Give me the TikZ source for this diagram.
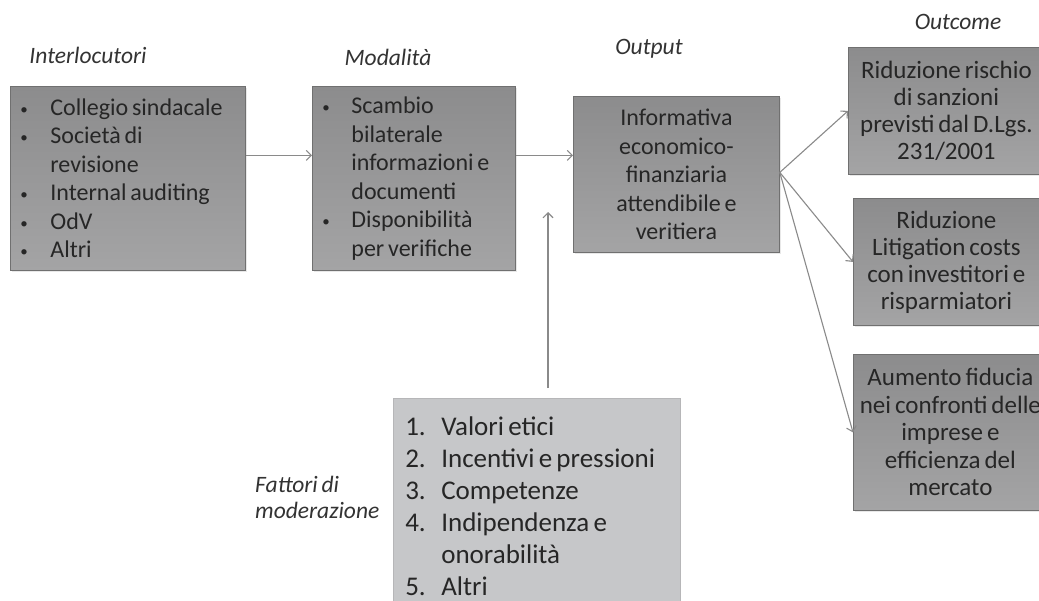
\documentclass[tikz,border=0pt]{standalone}
\usepackage{fontspec}
\setmainfont{Carlito}[WordSpace=0.7]
\usetikzlibrary{arrows.meta,calc,shadows}
\definecolor{boxtop}{HTML}{8C8C8D}
\definecolor{boxbot}{HTML}{A4A4A5}
\definecolor{boxline}{HTML}{707070}
\definecolor{boxtext}{HTML}{262626}
\definecolor{lbltext}{HTML}{333333}
\definecolor{modfill}{HTML}{C6C7C9}
\definecolor{modline}{HTML}{B6B6B8}
\definecolor{arrowgray}{HTML}{8A8A8A}
% list markers with a fixed hanging indent
\newcommand\bul[1]{\makebox[#1][l]{\fontsize{15}{15}\selectfont\raisebox{1pt}{\textbullet}}}
\newcommand\num[2]{\makebox[#1][l]{#2}}
\newcommand\gap[1]{\hspace*{#1}}
\tikzset{
  darkbox/.style={draw=boxline, line width=0.8pt, top color=boxtop, bottom color=boxbot,
    text=boxtext, inner sep=0pt, anchor=north west,
    drop shadow={opacity=0.18, shadow xshift=2pt, shadow yshift=-2pt},
    font=\fontsize{24}{28.5}\selectfont},
  listbox/.style={darkbox, align=flush left, inner xsep=10pt},
  centerbox/.style={darkbox, align=center},
  modbox/.style={draw=modline, line width=0.6pt, fill=modfill, text=boxtext,
    inner sep=0pt, inner xsep=12pt, anchor=north west, align=flush left,
    font=\fontsize{27}{32}\selectfont},
  heading/.style={text=lbltext, font=\itshape\fontsize{23.5}{26}\selectfont, inner sep=0pt},
  flow/.style={draw=arrowgray, line width=1.1pt, -{Straight Barb[length=5pt,width=10pt]}}
}
\begin{document}
\begin{tikzpicture}[x=1pt,y=-1pt]
\useasboundingbox (0,0) rectangle (1039,600);
\clip (0,0) rectangle (1039,600);
\fill[white] (0,0) rectangle (1039,600);

% column headings
\node[heading] (hinter) at (88,55) {Interlocutori};
\node[heading] (hmoda) at (388,57) {Modalità};
\node[heading] (hout) at (649,49) {Output};
\node[heading] (houtc) at (958,22) {Outcome};
\node[heading, anchor=west, align=left] (hfat) at (255,497) {Fattori di\\moderazione};

% process boxes
\node[listbox, text width=215pt, minimum width=235pt, minimum height=184pt] (inter) at (10,86)
  {\bul{30pt}Collegio sindacale\\
   \bul{30pt}Società di\\
   \gap{30pt}revisione\\
   \bul{30pt}Internal auditing\\
   \bul{30pt}OdV\\
   \bul{30pt}Altri};

\node[listbox, text width=183pt, minimum width=203pt, minimum height=184pt] (moda) at (312,86)
  {\bul{29pt}Scambio\\
   \gap{29pt}bilaterale\\
   \gap{29pt}informazioni e\\
   \gap{29pt}documenti\\
   \bul{29pt}Disponibilità\\
   \gap{29pt}per verifiche};

\node[centerbox, minimum width=206pt, minimum height=156pt] (out) at (573,96)
  {Informativa\\economico-\\finanziaria\\attendibile e\\veritiera};

% outcome boxes
\node[centerbox, minimum width=196pt, minimum height=127pt, font=\fontsize{25}{27}\selectfont] (oc1) at (848,47)
  {Riduzione rischio\\di sanzioni\\previsti dal D.Lgs.\\231/2001};
\node[centerbox, minimum width=186pt, minimum height=127pt, font=\fontsize{25}{27}\selectfont] (oc2) at (853,198)
  {Riduzione\\Litigation costs\\con investitori e\\risparmiatori};
\node[centerbox, minimum width=194pt, minimum height=156pt, font=\fontsize{25}{27.5}\selectfont] (oc3) at (853,354)
  {Aumento fiducia\\nei confronti delle\\imprese e\\efficienza del\\mercato};

% moderating factors
\node[modbox, text width=263pt, minimum width=287pt, minimum height=215pt] (fat) at (393,398)
  {\num{36pt}{1.}Valori etici\\
   \num{36pt}{2.}Incentivi e pressioni\\
   \num{36pt}{3.}Competenze\\
   \num{36pt}{4.}Indipendenza e\\
   \gap{36pt}onorabilità\\
   \num{36pt}{5.}Altri\\[14pt]};

% connectors
\draw[flow] ([yshift=23pt]inter.east) -- ([yshift=23pt]moda.west);
\draw[flow] ([yshift=23pt]moda.east) -- ([yshift=19pt]out.west);
\coordinate (modtip) at (548,212);
\draw[flow] ($(fat.north -| modtip)+(0,-10)$) -- (modtip);
\coordinate (fan) at ([yshift=2pt]out.east);
\draw[flow] (fan) -- (oc1.west);
\draw[flow] (fan) -- (oc2.west);
\draw[flow] (fan) -- (oc3.west);
\end{tikzpicture}
\end{document}
